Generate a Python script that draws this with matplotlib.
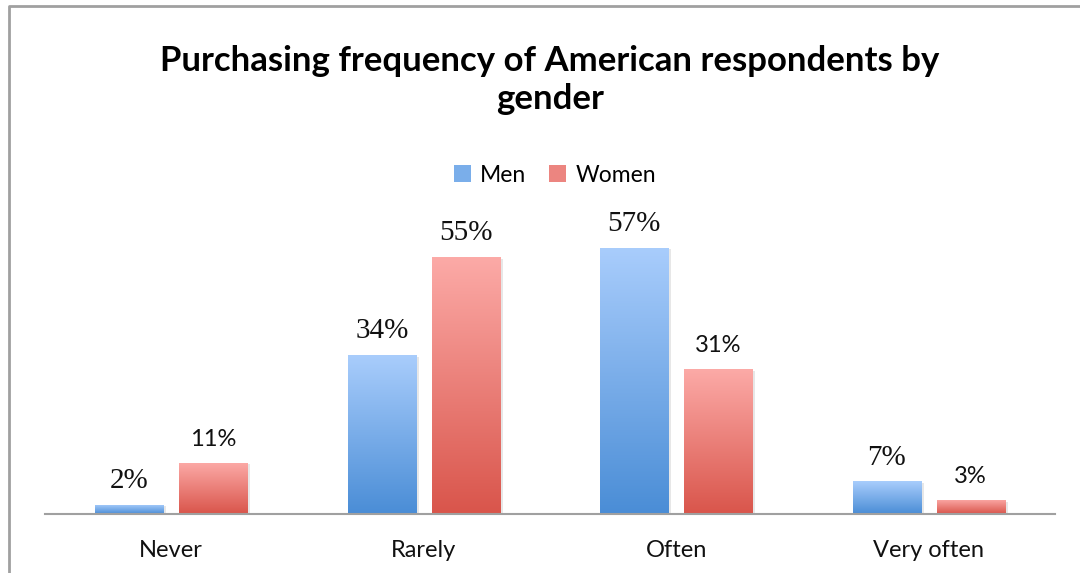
import numpy as np
import matplotlib
matplotlib.use('Agg')
import matplotlib.pyplot as plt
from matplotlib.colors import LinearSegmentedColormap
from matplotlib.lines import Line2D
from matplotlib.patches import Patch

# 数据
categories = ['Never', 'Rarely', 'Often', 'Very often']
men = [2, 34, 57, 7]
women = [11, 55, 31, 3]
series_names = ['Men', 'Women']
men_labels = ['2%', '34%', '57%', '7%']
women_labels = ['11%', '55%', '31%', '3%']
title = 'Purchasing frequency of American respondents by\ngender'

plt.rcParams['font.family'] = ['Lato', 'DejaVu Sans']

fig = plt.figure(figsize=(10.8, 5.73), dpi=100)
ax = fig.add_axes([45 / 1080, 1 - 514 / 573, 1010 / 1080, 314 / 573])

x = np.arange(len(categories))
width = 0.27
offset = 0.166

blue_cmap = LinearSegmentedColormap.from_list('b', ['#4a8dd6', '#a9cdfc'])
red_cmap = LinearSegmentedColormap.from_list('r', ['#d9554b', '#fcaaa7'])
grad = np.linspace(0, 1, 256).reshape(-1, 1)


def gradient_bars(xs, vals, cmap):
    bars = ax.bar(xs, vals, width, color='none', edgecolor='none', zorder=3)
    for b in bars:
        x0, y0 = b.get_x(), b.get_y()
        w, h = b.get_width(), b.get_height()
        # 阴影
        ax.bar(x0 + w / 2 + 0.012, h, w, bottom=-0.35, color='#d8d8d8',
               alpha=0.6, zorder=2)
        im = ax.imshow(grad, cmap=cmap, origin='lower', aspect='auto',
                       extent=(x0, x0 + w, y0, y0 + h), zorder=3)
        im.set_clip_path(b)
    return bars


gradient_bars(x - offset, men, blue_cmap)
gradient_bars(x + offset, women, red_cmap)

# 数据标签
for i in range(len(categories)):
    ax.annotate(men_labels[i], (x[i] - offset, men[i]), xytext=(0, 12),
                textcoords='offset points', ha='center', va='baseline',
                fontsize=21, family='Liberation Serif', color='#111111')
    fam = 'Liberation Serif' if women_labels[i] == '55%' else 'Lato'
    fs = 21 if fam == 'Liberation Serif' else 17
    ax.annotate(women_labels[i], (x[i] + offset, women[i]), xytext=(0, 12),
                textcoords='offset points', ha='center', va='baseline',
                fontsize=fs, family=fam, color='#111111')

ax.set_xlim(-0.5, len(categories) - 0.5)
ax.set_ylim(0, 67.2)
ax.set_xticks(x)
ax.set_xticklabels(categories, fontsize=17, color='#111111')
ax.tick_params(axis='x', length=0, pad=19)
ax.set_yticks([])
for s in ['top', 'right', 'left']:
    ax.spines[s].set_visible(False)
ax.spines['bottom'].set_color('#a0a0a0')
ax.spines['bottom'].set_linewidth(1.5)
ax.spines['bottom'].set_zorder(4)

# 标题
fig.text(550 / 1080, 1 - 80 / 573, title, ha='center', va='center',
         fontsize=25, fontweight='bold', linespacing=1.2, color='black')

# 图例
handles = [Patch(facecolor='#7aaeea'), Patch(facecolor='#ec8580')]
fig.legend(handles, series_names, loc='center',
           bbox_to_anchor=(555 / 1080, 1 - 175 / 573), ncol=2, frameon=False,
           fontsize=16.5, handlelength=0.75, handleheight=0.75,
           handletextpad=0.4, columnspacing=1.0)

# 边框
fig.add_artist(Line2D([9 / 1080, 9 / 1080, 1], [0, 1 - 6 / 573, 1 - 6 / 573],
                      transform=fig.transFigure, color='#a0a0a0', lw=2))

plt.savefig('out.png', dpi=100)
